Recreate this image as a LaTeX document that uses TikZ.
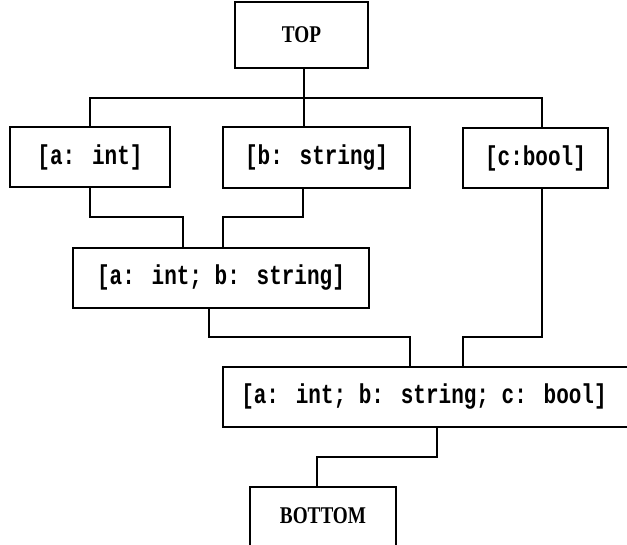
\documentclass[tikz,border=0pt]{standalone}
\usepackage{fontspec}
\setmainfont{Liberation Serif}
\newfontfamily\lblfont{Liberation Mono}
\newcommand{\tallt}[1]{\scalebox{1}[1.3]{#1}}
\newcommand{\narrowt}[1]{\scalebox{0.8}[1]{#1}}
\tikzset{
  x=1pt, y=-1pt,
  boxshape/.style={draw, line width=1.2pt, rectangle, inner sep=0pt},
  lbl/.style={font=\lblfont\bfseries\fontsize{21}{25}\selectfont, inner sep=0pt},
  capsl/.style={font=\bfseries\fontsize{24}{28}\selectfont, inner sep=0pt},
  wire/.style={line width=1.2pt}
}
\begin{document}
\begin{tikzpicture}
\useasboundingbox (0,0) rectangle (627,545);
\clip (0,0) rectangle (627,545);
% boxes
\node[boxshape, capsl, minimum width=133pt, minimum height=66pt] (top) at (301.5,35) {\narrowt{TOP}};
\node[boxshape, lbl, minimum width=160pt, minimum height=60pt] (a) at (90,157) {\tallt{[a: int]}};
\node[boxshape, lbl, minimum width=187pt, minimum height=61pt] (b) at (316.5,157.5) {\tallt{[b: string]}};
\node[boxshape, lbl, minimum width=145pt, minimum height=60pt] (c) at (535.5,158) {\tallt{[c:bool]}};
\node[boxshape, lbl, minimum width=296pt, minimum height=60pt] (ab) at (221,278) {\tallt{[a: int; b: string]}};
\node[boxshape, minimum width=437pt, minimum height=60pt] (abc) at (441.5,397) {};
\node[lbl] (abct) at (424,397) {\tallt{[a: int; b: string; c: bool]}};
\node[boxshape, minimum width=146pt, minimum height=100pt] (bot) at (323,537) {};
\node[capsl] (bott) at (323,516) {\narrowt{BOTTOM}};
% level coordinates
\coordinate (j) at (304,98);
\coordinate (y1) at (0,217);
\coordinate (y2) at (0,337);
\coordinate (y3) at (0,457);
% connectors
\draw[wire] (top.south -| j) -- (j);
\draw[wire] (a.north) |- (j);
\draw[wire] (b.north -| j) -- (j);
\draw[wire] ([xshift=6.5pt]c.north) |- (j);
\draw[wire] (a.south) -- (a.south |- y1) -| ([xshift=-38pt]ab.north);
\draw[wire] ([xshift=-13.5pt]b.south) -- ([xshift=-13.5pt]b.south |- y1) -| ([xshift=2pt]ab.north);
\draw[wire] ([xshift=-12pt]ab.south) -- ([xshift=-12pt]ab.south |- y2) -| ([xshift=-31.5pt]abc.north);
\draw[wire] ([xshift=6.5pt]c.south) -- ([xshift=6.5pt]c.south |- y2) -| ([xshift=21.5pt]abc.north);
\draw[wire] ([xshift=-4.5pt]abc.south) -- ([xshift=-4.5pt]abc.south |- y3) -| ([xshift=-6pt]bot.north);
\end{tikzpicture}
\end{document}
